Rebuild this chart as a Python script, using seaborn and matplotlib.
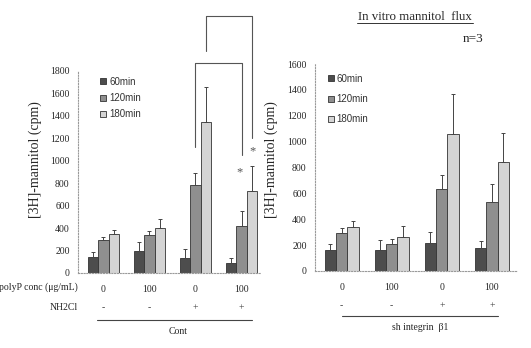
import matplotlib
matplotlib.use("Agg")
import matplotlib.pyplot as plt
import matplotlib.transforms as mtransforms
import seaborn as sns
import pandas as pd
import numpy as np

sns.set_theme(style="white")
plt.rcParams['font.family'] = ['Liberation Serif', 'DejaVu Serif']

# ---- data ----
groups = ["g1", "g2", "g3", "g4"]
polyp_labels = ["0", "100", "0", "100"]
nh2cl_labels = ["-", "-", "+", "+"]
times = ["60min", "120min", "180min"]

cont_mean = {"60min": [140, 195, 135, 85],
             "120min": [290, 335, 780, 420],
             "180min": [345, 400, 1350, 735]}
cont_err = {"60min": [50, 80, 75, 45],
            "120min": [35, 40, 110, 135],
            "180min": [35, 80, 310, 220]}

sh_mean = {"60min": [160, 160, 220, 180],
           "120min": [295, 205, 630, 535],
           "180min": [340, 260, 1060, 840]}
sh_err = {"60min": [50, 80, 85, 55],
          "120min": [35, 40, 110, 135],
          "180min": [45, 90, 310, 230]}

# significance brackets (Cont panel): x positions (data), y values
bracket_outer_x = [2.227, 3.227]
bracket_outer_y = [1978, 2290, 1203]
bracket_inner_x = [2.0, 3.0]
bracket_inner_y = [1123, 1871, 1051]
star_x = [2.95, 3.227]
star_y = [900, 1080]

colors = ["#4d4d4d", "#8f8f8f", "#d4d4d4"]

W, H = 531, 348
fig = plt.figure(figsize=(W / 100, H / 100), dpi=100)


def make_df(mean, err):
    rows = []
    for t in times:
        for g, m, e in zip(groups, mean[t], err[t]):
            rows.append({"group": g, "time": t, "value": m, "err": e})
    return pd.DataFrame(rows)


def panel(rect, df, ymax, ystep, xlim, leg_anchor, leg_spacing, ylab_xy):
    ax = fig.add_axes(rect)
    sns.barplot(data=df, x="group", y="value", hue="time", hue_order=times,
                order=groups, palette=colors, width=0.68, errorbar=None,
                edgecolor="#333333", linewidth=0.6, ax=ax, legend=True)
    # error bars (upper only) at bar centres
    for container, t in zip(ax.containers, times):
        sub = df[df["time"] == t].set_index("group").loc[groups]
        xs = [p.get_x() + p.get_width() / 2 for p in container.patches]
        ax.errorbar(xs, sub["value"].values,
                    yerr=[np.zeros(len(xs)), sub["err"].values],
                    fmt="none", ecolor="#444444", elinewidth=0.7,
                    capsize=1.6, capthick=0.7)
    ax.set_ylim(0, ymax)
    ax.set_xlim(*xlim)
    ax.set_yticks(np.arange(0, ymax + 1, ystep))
    ax.tick_params(axis="y", labelsize=7, length=0, pad=6)
    ax.set_xticks(range(4))
    ax.set_xticklabels(polyp_labels, fontsize=7)
    ax.tick_params(axis="x", length=0, pad=9)
    for s in ["top", "right"]:
        ax.spines[s].set_visible(False)
    for s in ["left", "bottom"]:
        ax.spines[s].set_linestyle((0, (1, 1.5)))
        ax.spines[s].set_color("#9a9a9a")
        ax.spines[s].set_linewidth(0.8)
    ax.set_xlabel("")
    ax.set_ylabel("[3H]-mannitol (cpm)", fontsize=10)
    ax.yaxis.set_label_coords(*ylab_xy)
    ax.grid(False)
    ax.set_facecolor("none")
    leg = ax.legend(loc="upper left", bbox_to_anchor=leg_anchor,
                    frameon=False, handlelength=0.6,
                    handleheight=0.6, handletextpad=0.3,
                    labelspacing=leg_spacing,
                    prop={"family": "Liberation Sans", "size": 7})
    for txt in leg.get_texts():
        txt.set_color("#333333")
    tr = mtransforms.blended_transform_factory(ax.transData, fig.transFigure)
    return ax, tr


# left panel (Cont)
axL, trL = panel([78 / W, 1 - 273 / H, (260 - 78) / W, (273 - 71) / H],
                 make_df(cont_mean, cont_err), 1800, 200, (-0.55, 3.4),
                 (0.075, 1.015), 0.65, (-0.198, 0.56))
for i, s in enumerate(nh2cl_labels):
    axL.text(i, 1 - 308 / H, s, transform=trL, ha="center", va="center",
             fontsize=7, color="#444444")
fig.text(78 / W, 1 - 287 / H, "polyP conc (μg/mL)", ha="right", va="center",
         fontsize=7)
fig.text(78 / W, 1 - 308 / H, "NH2Cl", ha="right", va="center", fontsize=7)
axL.plot([97 / W, 252 / W], [1 - 320 / H] * 2, transform=fig.transFigure,
         color="#444444", lw=0.8, clip_on=False)
fig.text(178 / W, 1 - 331 / H, "Cont", ha="center", va="center", fontsize=7)

# brackets
axL.plot([bracket_outer_x[0], bracket_outer_x[0], bracket_outer_x[1], bracket_outer_x[1]],
         [bracket_outer_y[0], bracket_outer_y[1], bracket_outer_y[1], bracket_outer_y[2]],
         color="#555555", lw=0.8, clip_on=False)
axL.plot([bracket_inner_x[0], bracket_inner_x[0], bracket_inner_x[1], bracket_inner_x[1]],
         [bracket_inner_y[0], bracket_inner_y[1], bracket_inner_y[1], bracket_inner_y[2]],
         color="#555555", lw=0.8, clip_on=False)
for x, y in zip(star_x, star_y):
    axL.text(x, y, "*", ha="center", va="center", fontsize=9, color="#555555")

# right panel (sh integrin)
axR, trR = panel([315 / W, 1 - 271 / H, (517 - 315) / W, (271 - 64) / H],
                 make_df(sh_mean, sh_err), 1600, 200, (-0.53, 3.5),
                 (0.02, 0.995), 1.06, (-0.183, 0.54))
for i, s in enumerate(nh2cl_labels):
    axR.text(i, 1 - 306 / H, s, transform=trR, ha="center", va="center",
             fontsize=7, color="#444444")
axR.plot([342 / W, 498 / W], [1 - 316 / H] * 2, transform=fig.transFigure,
         color="#444444", lw=0.8, clip_on=False)
fig.text(420 / W, 1 - 328 / H, "sh integrin  β1", ha="center", va="center",
         fontsize=7)

# title and n
fig.text(415 / W, 1 - 17 / H, "In vitro mannitol  flux", ha="center",
         va="center", fontsize=9.3)
fig.add_artist(plt.Line2D([357 / W, 473 / W], [1 - 23 / H] * 2,
                          color="#333333", lw=0.7))
fig.text(473 / W, 1 - 39 / H, "n=3", ha="center", va="center", fontsize=9.5)

fig.savefig("out.png", dpi=100)
